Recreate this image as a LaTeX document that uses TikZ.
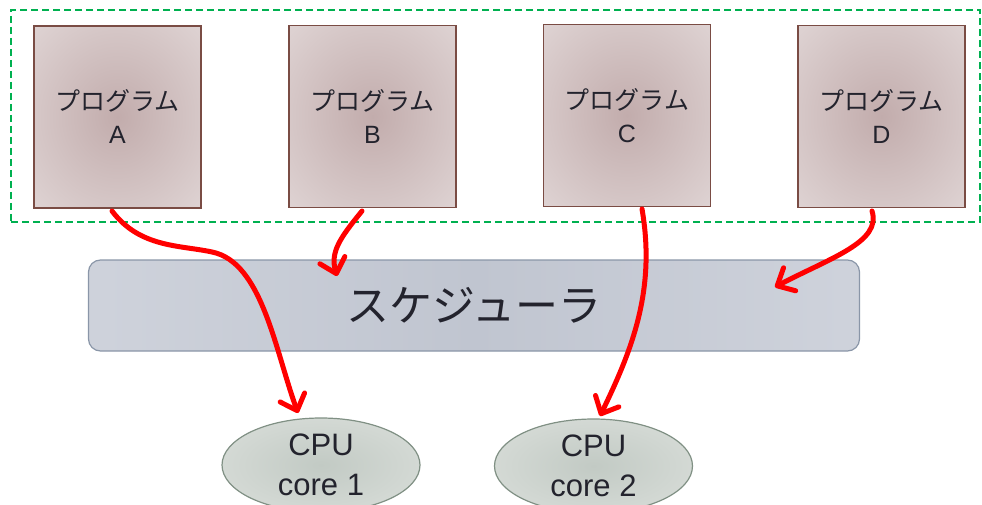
\documentclass[tikz,border=0pt]{standalone}
\usepackage{fontspec}
\setmainfont{Liberation Sans}
\newfontfamily\jp{Noto Sans CJK JP}
\usetikzlibrary{arrows.meta,shapes.geometric}
\definecolor{txt}{RGB}{35,35,45}
\definecolor{pc}{RGB}{194,172,172}
\definecolor{pe}{RGB}{226,216,216}
\definecolor{pb}{RGB}{122,76,68}
\definecolor{sl}{RGB}{221,224,231}
\definecolor{sc}{RGB}{192,197,208}
\definecolor{sb}{RGB}{138,150,168}
\definecolor{ec}{RGB}{194,202,196}
\definecolor{ee}{RGB}{222,226,222}
\definecolor{eb}{RGB}{128,144,132}
\definecolor{grn}{RGB}{0,176,80}
\pgfdeclareradialshading{progshade}{\pgfpoint{0bp}{0bp}}{color(0bp)=(pc);color(40bp)=(pe);color(60bp)=(pe)}
\pgfdeclareradialshading{cpushade}{\pgfpoint{0bp}{0bp}}{color(0bp)=(ec);color(40bp)=(ee);color(60bp)=(ee)}
\pgfdeclarehorizontalshading{schedshade}{100bp}{color(0bp)=(sl);color(50bp)=(sc);color(100bp)=(sl)}
\tikzset{
  prog/.style={draw=pb, line width=1.2pt, shading=progshade, minimum width=167pt, minimum height=182pt, inner sep=0pt, align=center, text=txt, font=\fontsize{25}{33}\selectfont},
  sched/.style={draw=sb, line width=1.2pt, rounded corners=12pt, shading=schedshade, minimum width=771pt, minimum height=91pt, inner sep=0pt, text=txt, font=\jp\fontsize{43}{48}\selectfont},
  cpu/.style={ellipse, draw=eb, line width=1.2pt, shading=cpushade, minimum width=198pt, minimum height=94pt, inner sep=0pt, align=center, text=txt, font=\fontsize{31}{40}\selectfont},
  flow/.style={red, line width=5pt, line cap=round, -{Straight Barb[length=14pt,width=26pt,line width=5pt,round]}},
  group/.style={draw=grn, line width=1.8pt, dash pattern=on 7pt off 4pt}
}
\begin{document}
\begin{tikzpicture}[x=1pt,y=-1pt]
\useasboundingbox (0,0) rectangle (982,505);
\node[group, minimum width=969pt, minimum height=212pt, inner sep=0pt] (grp) at (495.5,116) {};
\node[prog] (A) at (117.5,117) {{\jp プログラム}\\A};
\node[prog] (B) at (372.5,116.5) {{\jp プログラム}\\B};
\node[prog] (C) at (627,115.5) {{\jp プログラム}\\C};
\node[prog] (D) at (881.5,116.5) {{\jp プログラム}\\D};
\node[sched] (S) at (474,305.5) {スケジューラ};
\node[cpu] (c1) at (321,465) {CPU\\core 1};
\node[cpu] (c2) at (593.5,466) {CPU\\core 2};
\coordinate (aS) at (112,211);
\coordinate (bS) at (362,211);
\coordinate (cS) at (642,209);
\coordinate (dS) at (872,211);
\coordinate (aE) at (298,413);
\coordinate (bE) at (337,276);
\coordinate (cE) at (600,416);
\coordinate (dE) at (775,287);
\coordinate (aM) at (212,252);
\draw[flow] (aS) .. controls (140,248) and (180,245) .. (aM) .. controls (262,262) and (275,350) .. (aE);
\draw[flow] (bS) .. controls (340,238) and (330,252) .. (bE);
\draw[flow] (cS) .. controls (656,290) and (632,350) .. (cE);
\draw[flow] (dS) .. controls (882,242) and (830,258) .. (dE);
\end{tikzpicture}
\end{document}
